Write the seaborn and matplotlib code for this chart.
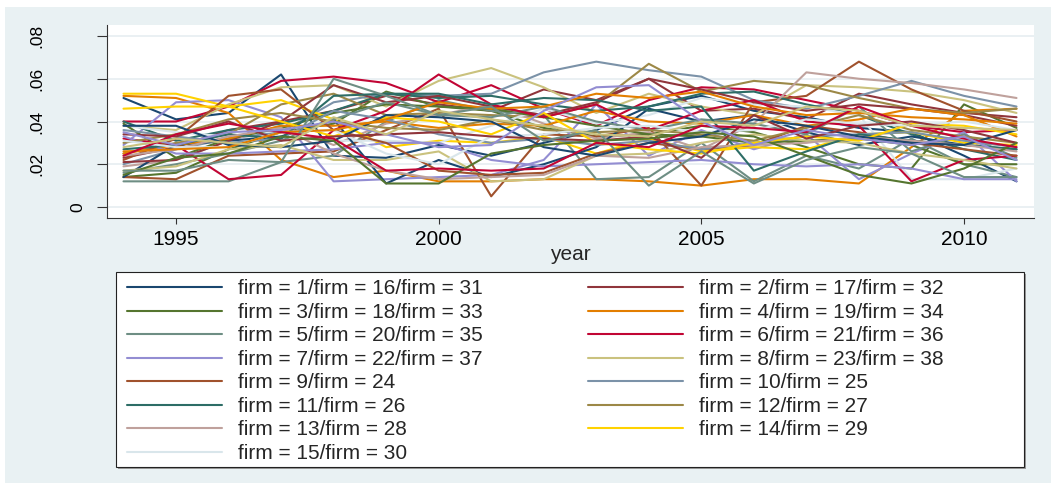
import matplotlib
matplotlib.use("Agg")
import matplotlib.pyplot as plt
import seaborn as sns
import pandas as pd
from matplotlib.lines import Line2D
from matplotlib.patches import Rectangle

years = list(range(1994, 2012))

f01 = [.051, .041, .044, .062, .024, .023, .029, .024, .030, .036, .047, .052, .045, .042, .037, .035, .024, .012]
f02 = [.023, .028, .036, .040, .045, .052, .048, .045, .055, .050, .060, .045, .046, .041, .053, .048, .044, .042]
f03 = [.014, .016, .027, .035, .039, .054, .047, .045, .037, .033, .034, .038, .035, .028, .020, .018, .048, .037]
f04 = [.052, .051, .044, .022, .014, .017, .012, .012, .013, .013, .012, .010, .013, .013, .011, .028, .045, .046]
f05 = [.012, .012, .012, .021, .024, .040, .050, .045, .043, .013, .014, .030, .012, .024, .018, .032, .020, .014]
f06 = [.040, .040, .047, .059, .061, .058, .049, .057, .046, .038, .050, .056, .055, .050, .045, .038, .035, .036]
f07 = [.029, .049, .050, .042, .012, .013, .014, .015, .022, .048, .024, .036, .027, .034, .013, .025, .035, .012]
f08 = [.038, .036, .048, .056, .057, .047, .059, .065, .056, .044, .053, .047, .043, .057, .056, .054, .050, .044]
f09 = [.014, .013, .024, .025, .026, .036, .046, .005, .034, .033, .037, .010, .049, .052, .068, .055, .045, .040]
f10 = [.020, .027, .032, .035, .049, .053, .052, .053, .063, .068, .064, .061, .050, .046, .052, .059, .052, .047]
f11 = [.040, .031, .036, .039, .045, .053, .051, .052, .048, .045, .047, .053, .054, .048, .043, .034, .027, .022]
f12 = [.025, .030, .034, .048, .053, .043, .044, .043, .042, .048, .067, .054, .059, .057, .051, .046, .044, .046]
f13 = [.019, .022, .031, .038, .029, .039, .043, .048, .039, .032, .035, .027, .039, .063, .060, .058, .055, .051]
f14 = [.053, .053, .047, .050, .041, .028, .031, .030, .033, .025, .032, .026, .028, .027, .034, .035, .030, .029]
f15 = [.038, .035, .033, .036, .031, .031, .030, .038, .046, .039, .043, .051, .048, .047, .043, .013, .013, .018]
f16 = [.014, .029, .031, .033, .041, .011, .022, .014, .020, .028, .046, .040, .043, .035, .029, .033, .029, .027]
f17 = [.021, .022, .031, .040, .057, .049, .052, .047, .043, .049, .060, .055, .049, .045, .048, .046, .043, .038]
f18 = [.039, .023, .032, .037, .044, .048, .047, .046, .042, .038, .034, .033, .030, .031, .032, .029, .020, .020]
f19 = [.025, .029, .032, .038, .038, .040, .037, .039, .038, .045, .040, .039, .043, .038, .041, .046, .043, .033]
f20 = [.016, .020, .025, .031, .041, .049, .043, .042, .047, .040, .036, .041, .039, .034, .047, .026, .034, .023]
f21 = [.032, .029, .013, .015, .036, .045, .062, .048, .042, .048, .036, .045, .050, .040, .038, .012, .022, .024]
f22 = [.033, .025, .025, .026, .027, .030, .030, .022, .019, .020, .021, .022, .020, .019, .020, .018, .013, .013]
f23 = [.017, .019, .027, .029, .022, .022, .026, .012, .013, .024, .025, .030, .034, .031, .030, .025, .022, .018]
f24 = [.022, .032, .052, .055, .036, .030, .017, .015, .016, .025, .030, .027, .029, .038, .035, .030, .027, .024]
f25 = [.036, .033, .030, .032, .045, .041, .034, .030, .032, .029, .031, .027, .030, .033, .034, .035, .031, .028]
f26 = [.027, .029, .034, .032, .052, .053, .053, .048, .051, .050, .045, .047, .017, .026, .034, .031, .029, .027]
f27 = [.030, .034, .041, .044, .040, .037, .036, .041, .036, .035, .036, .034, .031, .037, .043, .036, .033, .030]
f28 = [.024, .027, .033, .037, .025, .017, .013, .014, .015, .024, .023, .028, .029, .030, .033, .031, .029, .026]
f29 = [.046, .047, .047, .040, .033, .042, .040, .034, .044, .030, .027, .025, .030, .033, .031, .039, .038, .034]
f30 = [.031, .028, .028, .035, .036, .025, .020, .033, .034, .037, .038, .035, .036, .041, .039, .038, .040, .036]
f31 = [.038, .038, .029, .028, .031, .043, .042, .040, .028, .024, .030, .033, .041, .038, .033, .030, .029, .036]
f32 = [.034, .033, .040, .031, .033, .034, .035, .033, .032, .031, .033, .023, .043, .032, .038, .040, .036, .030]
f33 = [.015, .023, .025, .033, .031, .011, .011, .025, .029, .031, .032, .035, .033, .024, .015, .011, .018, .030]
f34 = [.026, .027, .028, .035, .036, .041, .049, .046, .047, .053, .051, .054, .047, .043, .044, .042, .041, .039]
f35 = [.017, .017, .022, .021, .060, .052, .043, .047, .031, .036, .010, .026, .011, .022, .028, .025, .014, .014]
f36 = [.024, .034, .039, .035, .032, .017, .018, .017, .018, .030, .028, .038, .037, .035, .047, .038, .032, .028]
f37 = [.035, .029, .035, .036, .040, .034, .028, .029, .045, .056, .057, .040, .029, .036, .032, .029, .033, .022]
f38 = [.028, .032, .030, .028, .042, .034, .045, .041, .038, .034, .033, .040, .038, .047, .045, .038, .037, .036]

firm_series = [f01, f02, f03, f04, f05, f06, f07, f08, f09, f10, f11, f12, f13,
               f14, f15, f16, f17, f18, f19, f20, f21, f22, f23, f24, f25, f26,
               f27, f28, f29, f30, f31, f32, f33, f34, f35, f36, f37, f38]

# Stata s2color palette (15 pens)
stata_colors = ["#1A476F", "#90353B", "#55752F", "#E37E00", "#6E8E84",
                "#C10534", "#938DD2", "#CAC27E", "#A0522D", "#7B92A8",
                "#2D6D66", "#9C8847", "#BFA19C", "#FFD200", "#D9E6EB"]

ytick_vals = [0, 0.02, 0.04, 0.06, 0.08]
ytick_labels = ["0", ".02", ".04", ".06", ".08"]
xtick_vals = [1995, 2000, 2005, 2010]

BG = "#E9F1F3"
FONT = "Liberation Sans"

rows = []
for i, vals in enumerate(firm_series, start=1):
    for yr, v in zip(years, vals):
        rows.append({"firm": f"firm {i}", "year": yr, "value": v})
df = pd.DataFrame(rows)
palette = {f"firm {i}": stata_colors[(i - 1) % 15] for i in range(1, len(firm_series) + 1)}

sns.set_theme(style="white")
plt.rcParams["font.family"] = [FONT, "DejaVu Sans"]

W, H = 1051, 483
fig = plt.figure(figsize=(W / 100, H / 100), dpi=100, facecolor="white")

def fx(px):
    return px / W

def fy(py):
    return 1 - py / H

# outer light background (white strip at top/left as in reference)
fig.patches.append(Rectangle((fx(5), 0), 1 - fx(5), fy(7), transform=fig.transFigure,
                             facecolor=BG, edgecolor="none", zorder=-5))

ax = fig.add_axes([fx(107), fy(218), fx(1034) - fx(107), fy(25) - fy(218)])
ax.set_facecolor("white")

sns.lineplot(data=df, x="year", y="value", hue="firm", palette=palette,
             legend=False, ax=ax, linewidth=1.5, errorbar=None, sort=True)

ax.set_xlim(1993.686, 2011.333)
ax.set_ylim(-0.00515, 0.08515)

for s in ["top", "right"]:
    ax.spines[s].set_visible(False)
for s in ["left", "bottom"]:
    ax.spines[s].set_color("#333333")
    ax.spines[s].set_linewidth(0.8)

ax.set_axisbelow(True)
ax.yaxis.grid(True, color="#E6EEF1", linewidth=1.2)
ax.xaxis.grid(False)

ax.set_xticks(xtick_vals, [str(v) for v in xtick_vals], fontsize=15, color="black")
ax.tick_params(axis="x", direction="out", length=4.5, width=0.8, color="#333333", pad=4,
               bottom=True)
ax.set_yticks(ytick_vals, ytick_labels, fontsize=12.5, rotation=90, va="center", color="black")
ax.tick_params(axis="y", direction="out", length=7.2, width=0.8, color="#333333", left=True)
for tick, lab in zip(ax.yaxis.get_major_ticks(), ytick_labels):
    tick.set_pad(8.3 if lab == "0" else 38)

ax.set_xlabel("year", fontsize=15, va="baseline")
ax.xaxis.set_label_coords(0.5, (218 - 260) / (218 - 25))
ax.set_ylabel("")

# legend frame with shadow
fig.patches.append(Rectangle((fx(117.5), fy(469)), fx(1025.5) - fx(117.5), fy(273.5) - fy(469),
                             transform=fig.transFigure, facecolor="#9A9A9A",
                             edgecolor="none", zorder=1))
fig.patches.append(Rectangle((fx(116), fy(467)), fx(1024) - fx(116), fy(272) - fy(467),
                             transform=fig.transFigure, facecolor="white",
                             edgecolor="#222222", linewidth=0.8, zorder=2))

labels, handles = [], []
for g in range(15):
    members = [k for k in range(1, len(firm_series) + 1) if (k - 1) % 15 == g]
    labels.append("/".join(f"firm = {k}" for k in members))
    handles.append(Line2D([], [], color=stata_colors[g], linewidth=1.5))

fs = 15
em = fs * 100 / 72
common = dict(frameon=False, fontsize=fs, handlelength=95 / em, handletextpad=16 / em,
              labelspacing=0.215, borderpad=0, borderaxespad=0, loc="upper left")
leg1 = fig.legend([handles[i] for i in range(0, 15, 2)], [labels[i] for i in range(0, 15, 2)],
                  bbox_to_anchor=(fx(127), fy(279.5)), **common)
leg2 = fig.legend([handles[i] for i in range(1, 15, 2)], [labels[i] for i in range(1, 15, 2)],
                  bbox_to_anchor=(fx(588), fy(279.5)), **common)
for lg in (leg1, leg2):
    lg.set_zorder(5)

fig.savefig("out.png", dpi=100, facecolor="white")
